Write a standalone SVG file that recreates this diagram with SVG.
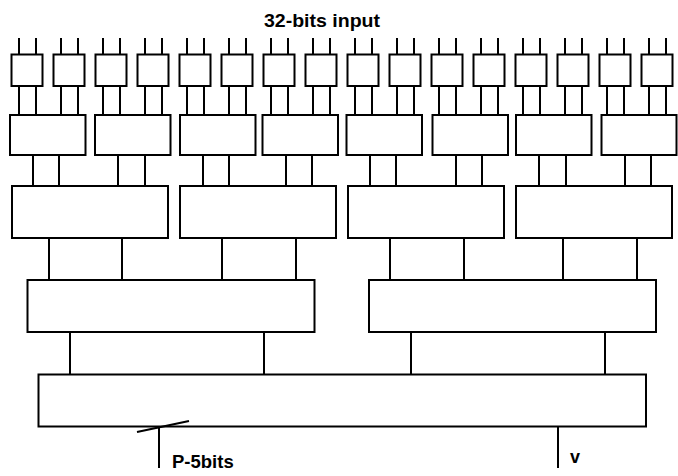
<svg xmlns="http://www.w3.org/2000/svg" width="678" height="476" viewBox="0 0 678 476">
  <style>
    .blk { fill: #fff; stroke: #000; stroke-width: 2; }
    .wire { stroke: #000; stroke-width: 2; fill: none; }
    .lbl { font-family: "Liberation Sans", Arial, sans-serif; font-weight: bold; fill: #000; }
  </style>
  <rect width="678" height="476" fill="#fff"/>

  <!-- stage 1: sixteen 2-input cells -->
  <g id="stage1">
    <g id="s1-0"><rect class="blk" x="11.5" y="54.5" width="31" height="31.5"/></g>
    <g id="s1-1"><rect class="blk" x="53.5" y="54.5" width="31" height="31.5"/></g>
    <g id="s1-2"><rect class="blk" x="95.5" y="54.5" width="31" height="31.5"/></g>
    <g id="s1-3"><rect class="blk" x="137.5" y="54.5" width="31" height="31.5"/></g>
    <g id="s1-4"><rect class="blk" x="179.5" y="54.5" width="31" height="31.5"/></g>
    <g id="s1-5"><rect class="blk" x="221.5" y="54.5" width="31" height="31.5"/></g>
    <g id="s1-6"><rect class="blk" x="263.5" y="54.5" width="31" height="31.5"/></g>
    <g id="s1-7"><rect class="blk" x="305.5" y="54.5" width="31" height="31.5"/></g>
    <g id="s1-8"><rect class="blk" x="347.5" y="54.5" width="31" height="31.5"/></g>
    <g id="s1-9"><rect class="blk" x="389.5" y="54.5" width="31" height="31.5"/></g>
    <g id="s1-10"><rect class="blk" x="431.5" y="54.5" width="31" height="31.5"/></g>
    <g id="s1-11"><rect class="blk" x="473.5" y="54.5" width="31" height="31.5"/></g>
    <g id="s1-12"><rect class="blk" x="515.5" y="54.5" width="31" height="31.5"/></g>
    <g id="s1-13"><rect class="blk" x="557.5" y="54.5" width="31" height="31.5"/></g>
    <g id="s1-14"><rect class="blk" x="599.5" y="54.5" width="31" height="31.5"/></g>
    <g id="s1-15"><rect class="blk" x="641.5" y="54.5" width="31" height="31.5"/></g>
  </g>

  <!-- stage 2: eight cells -->
  <g id="stage2">
    <g id="s2-0"><rect class="blk" x="10" y="115" width="75.5" height="40"/></g>
    <g id="s2-1"><rect class="blk" x="95" y="115" width="75.5" height="40"/></g>
    <g id="s2-2"><rect class="blk" x="180" y="115" width="75.5" height="40"/></g>
    <g id="s2-3"><rect class="blk" x="262.5" y="115" width="75.5" height="40"/></g>
    <g id="s2-4"><rect class="blk" x="346.5" y="115" width="75.5" height="40"/></g>
    <g id="s2-5"><rect class="blk" x="432.5" y="115" width="75.5" height="40"/></g>
    <g id="s2-6"><rect class="blk" x="516" y="115" width="75.5" height="40"/></g>
    <g id="s2-7"><rect class="blk" x="601.5" y="115" width="75" height="40"/></g>
  </g>

  <!-- stage 3: four cells -->
  <g id="stage3">
    <g id="s3-0"><rect class="blk" x="12" y="186" width="156" height="52"/></g>
    <g id="s3-1"><rect class="blk" x="180" y="186" width="156" height="52"/></g>
    <g id="s3-2"><rect class="blk" x="348" y="186" width="156" height="52"/></g>
    <g id="s3-3"><rect class="blk" x="516" y="186" width="156" height="52"/></g>
  </g>

  <!-- stage 4: two cells -->
  <g id="stage4">
    <g id="s4-0"><rect class="blk" x="27.5" y="280" width="287" height="52"/></g>
    <g id="s4-1"><rect class="blk" x="369" y="280" width="287" height="52"/></g>
  </g>

  <!-- stage 5: final cell -->
  <g id="stage5">
    <g id="s5-0"><rect class="blk" x="38.5" y="374.5" width="607.5" height="52"/></g>
  </g>

  <!-- wires between stages (drawn over the cells so the bus slash shows) -->
  <g id="connectors" class="wire">
    <!-- 32 input bits, two per first-stage cell -->
    <path d="M19 38V54M36 38V54M61 38V54M78 38V54M103 38V54M120 38V54M145 38V54M162 38V54
             M187 38V54M204 38V54M229 38V54M246 38V54M271 38V54M288 38V54M313 38V54M330 38V54
             M355 38V54M372 38V54M397 38V54M414 38V54M439 38V54M456 38V54M481 38V54M498 38V54
             M523 38V54M540 38V54M565 38V54M582 38V54M607 38V54M624 38V54M649 38V54M666 38V54"/>
    <!-- stage 1 to stage 2 -->
    <path d="M19 86V115M36 86V115M61 86V115M78 86V115M103 86V115M120 86V115M145 86V115M162 86V115
             M187 86V115M204 86V115M229 86V115M246 86V115M271 86V115M288 86V115M313 86V115M330 86V115
             M355 86V115M372 86V115M397 86V115M414 86V115M439 86V115M456 86V115M481 86V115M498 86V115
             M523 86V115M540 86V115M565 86V115M582 86V115M607 86V115M624 86V115M649 86V115M666 86V115"/>
    <!-- stage 2 to stage 3 -->
    <path d="M33 155V186M59 155V186M118 155V186M145 155V186M203 155V186M229 155V186M286 155V186M312 155V186
             M370 155V186M396 155V186M456 155V186M482 155V186M539 155V186M566 155V186M625 155V186M651 155V186"/>
    <!-- stage 3 to stage 4 -->
    <path d="M49 238V280M122 238V280M222 238V280M296 238V280M390 238V280M464 238V280M563 238V280M637 238V280"/>
    <!-- stage 4 to stage 5 -->
    <path d="M70 332V374M264 332V374M411 332V374M605 332V374"/>
    <!-- outputs: P (5-bit bus) and v -->
    <path d="M159 426.5V468M137 432L189 421"/>
    <path d="M558 426.5V468"/>
  </g>

  <!-- labels -->
  <text class="lbl" x="264" y="27" font-size="19" textLength="116" lengthAdjust="spacingAndGlyphs">32-bits input</text>
  <text class="lbl" x="172" y="467.5" font-size="18.5">P-5bits</text>
  <text class="lbl" x="570" y="462.5" font-size="18">v</text>
</svg>
